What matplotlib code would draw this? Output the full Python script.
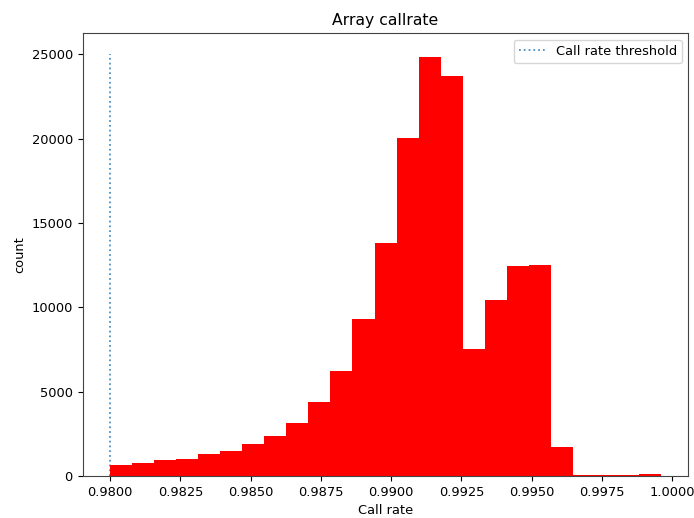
import numpy as np
import matplotlib
matplotlib.use('Agg')
import matplotlib.pyplot as plt

# histogram of array call rates, 25 bins between 0.98 and 0.9996
bin_start = 0.98
bin_stop = 0.9996
n_bins = 25
counts = [650, 750, 930, 990, 1300, 1480, 1880, 2360, 3170, 4400,
          6250, 9320, 13830, 20050, 24850, 23720, 7550, 10450, 12460, 12530,
          1720, 60, 50, 50, 120]

threshold = 0.98
threshold_top = 25000

plt.rcParams['font.size'] = 9.4
plt.rcParams['axes.edgecolor'] = '#444444'

edges = np.linspace(bin_start, bin_stop, n_bins + 1)
centers = (edges[:-1] + edges[1:]) / 2

fig = plt.figure(figsize=(6.94, 5.18), dpi=100)
ax = fig.add_axes([0.119, 0.081, 0.873, 0.855])

ax.vlines(threshold, 0, threshold_top, linestyles='dotted', linewidth=1.3,
          alpha=0.8, label='Call rate threshold', zorder=1)
ax.hist(centers, bins=edges, weights=counts, color='red', zorder=2)

ax.set_title('Array callrate')
ax.set_xlabel('Call rate')
ax.set_ylabel('count')
ax.legend(loc='upper right')

fig.savefig('out.png', dpi=100)
